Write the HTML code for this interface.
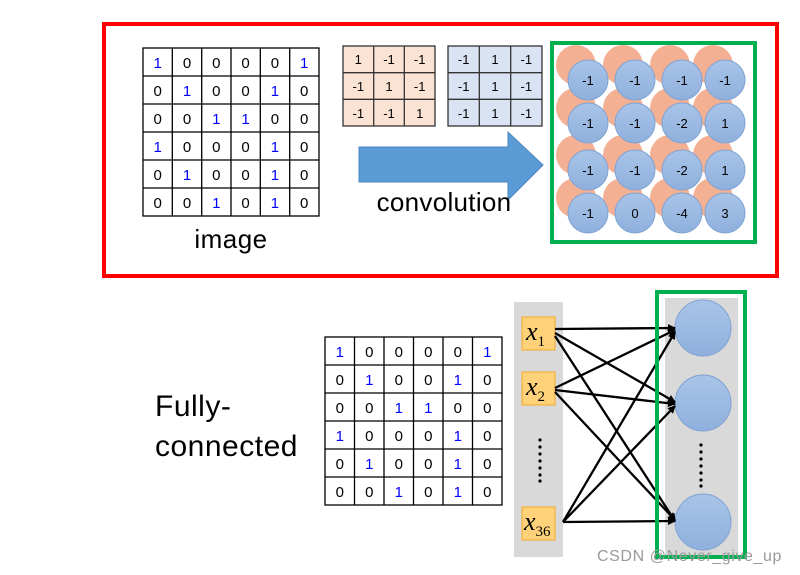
<!DOCTYPE html>
<html><head><meta charset="utf-8"><style>
html,body{margin:0;padding:0;background:#fff;}
svg{display:block;font-family:"Liberation Sans",sans-serif;}
</style></head><body>
<svg width="800" height="575" viewBox="0 0 800 575" xmlns="http://www.w3.org/2000/svg">
<defs>
<marker id="ah" markerWidth="8" markerHeight="8" refX="7" refY="4" orient="auto" markerUnits="userSpaceOnUse"><path d="M0,0 L8,4 L0,8 z" fill="#000"/></marker>
<linearGradient id="bg" x1="0" y1="0" x2="0" y2="1"><stop offset="0" stop-color="#a9c4e8"/><stop offset="1" stop-color="#8fb0dd"/></linearGradient>
</defs>
<rect x="104" y="24" width="673" height="252" fill="none" stroke="#ff0000" stroke-width="4"/>

<g stroke="#000" stroke-width="1.3" fill="none">
<rect x="143" y="48" width="176" height="168"/>
<path d="M172.3,48V216M201.7,48V216M231,48V216M260.3,48V216M289.7,48V216M143,76H319M143,104H319M143,132H319M143,160H319M143,188H319"/>
</g>
<g font-size="15" text-anchor="middle" fill="#000">
<text x="157.7" y="68" fill="#00f">1</text><text x="187" y="68">0</text><text x="216.3" y="68">0</text><text x="245.6" y="68">0</text><text x="274.9" y="68">0</text><text x="304.2" y="68" fill="#00f">1</text>
<text x="157.7" y="96">0</text><text x="187" y="96" fill="#00f">1</text><text x="216.3" y="96">0</text><text x="245.6" y="96">0</text><text x="274.9" y="96" fill="#00f">1</text><text x="304.2" y="96">0</text>
<text x="157.7" y="124">0</text><text x="187" y="124">0</text><text x="216.3" y="124" fill="#00f">1</text><text x="245.6" y="124" fill="#00f">1</text><text x="274.9" y="124">0</text><text x="304.2" y="124">0</text>
<text x="157.7" y="152" fill="#00f">1</text><text x="187" y="152">0</text><text x="216.3" y="152">0</text><text x="245.6" y="152">0</text><text x="274.9" y="152" fill="#00f">1</text><text x="304.2" y="152">0</text>
<text x="157.7" y="180">0</text><text x="187" y="180" fill="#00f">1</text><text x="216.3" y="180">0</text><text x="245.6" y="180">0</text><text x="274.9" y="180" fill="#00f">1</text><text x="304.2" y="180">0</text>
<text x="157.7" y="208">0</text><text x="187" y="208">0</text><text x="216.3" y="208" fill="#00f">1</text><text x="245.6" y="208">0</text><text x="274.9" y="208" fill="#00f">1</text><text x="304.2" y="208">0</text>
</g>
<text x="231" y="248" font-size="26" text-anchor="middle" letter-spacing="0.5">image</text>

<rect x="343" y="46" width="92" height="80" fill="#fbe3d4" stroke="#333" stroke-width="1.3"/>
<path d="M373.7,46V126M404.3,46V126M343,72.7H435M343,99.3H435" stroke="#333" stroke-width="1.3"/>
<rect x="448" y="46" width="94" height="80" fill="#dae3f3" stroke="#333" stroke-width="1.3"/>
<path d="M479.3,46V126M510.7,46V126M448,72.7H542M448,99.3H542" stroke="#333" stroke-width="1.3"/>
<g font-size="13" text-anchor="middle">
<text x="358.3" y="64">1</text><text x="389" y="64">-1</text><text x="419.7" y="64">-1</text>
<text x="358.3" y="91">-1</text><text x="389" y="91">1</text><text x="419.7" y="91">-1</text>
<text x="358.3" y="118">-1</text><text x="389" y="118">-1</text><text x="419.7" y="118">1</text>
<text x="463.7" y="64">-1</text><text x="495" y="64">1</text><text x="526.3" y="64">-1</text>
<text x="463.7" y="91">-1</text><text x="495" y="91">1</text><text x="526.3" y="91">-1</text>
<text x="463.7" y="118">-1</text><text x="495" y="118">1</text><text x="526.3" y="118">-1</text>
</g>
<path d="M359,147H508V132L543,165L508,200V182H359Z" fill="#5b9bd5" stroke="#4a86c0" stroke-width="1"/>
<text x="444" y="211" font-size="26" text-anchor="middle" letter-spacing="0.3">convolution</text>

<g fill="#f4b093">
<circle cx="576" cy="65" r="20"/><circle cx="623" cy="65" r="20"/><circle cx="670" cy="65" r="20"/><circle cx="713" cy="65" r="20"/>
<circle cx="576" cy="108" r="20"/><circle cx="623" cy="108" r="20"/><circle cx="670" cy="108" r="20"/><circle cx="713" cy="108" r="20"/>
<circle cx="576" cy="155" r="20"/><circle cx="623" cy="155" r="20"/><circle cx="670" cy="155" r="20"/><circle cx="713" cy="155" r="20"/>
<circle cx="576" cy="198" r="20"/><circle cx="623" cy="198" r="20"/><circle cx="670" cy="198" r="20"/><circle cx="713" cy="198" r="20"/>
</g>
<g fill="url(#bg)" stroke="#7fa3d3" stroke-width="1">
<circle cx="588" cy="80" r="20"/><circle cx="635" cy="80" r="20"/><circle cx="682" cy="80" r="20"/><circle cx="725" cy="80" r="20"/>
<circle cx="588" cy="123" r="20"/><circle cx="635" cy="123" r="20"/><circle cx="682" cy="123" r="20"/><circle cx="725" cy="123" r="20"/>
<circle cx="588" cy="170" r="20"/><circle cx="635" cy="170" r="20"/><circle cx="682" cy="170" r="20"/><circle cx="725" cy="170" r="20"/>
<circle cx="588" cy="213" r="20"/><circle cx="635" cy="213" r="20"/><circle cx="682" cy="213" r="20"/><circle cx="725" cy="213" r="20"/>
</g>
<g font-size="13" text-anchor="middle">
<text x="588" y="85">-1</text><text x="635" y="85">-1</text><text x="682" y="85">-1</text><text x="725" y="85">-1</text>
<text x="588" y="128">-1</text><text x="635" y="128">-1</text><text x="682" y="128">-2</text><text x="725" y="128">1</text>
<text x="588" y="175">-1</text><text x="635" y="175">-1</text><text x="682" y="175">-2</text><text x="725" y="175">1</text>
<text x="588" y="218">-1</text><text x="635" y="218">0</text><text x="682" y="218">-4</text><text x="725" y="218">3</text>
</g>
<rect x="552" y="43" width="203" height="199" fill="none" stroke="#00b050" stroke-width="4"/>

<text x="155" y="416" font-size="30" letter-spacing="0.5">Fully-</text>
<text x="155" y="456" font-size="30" letter-spacing="0.5">connected</text>

<g stroke="#000" stroke-width="1.3" fill="none">
<rect x="325" y="337" width="177" height="168"/>
<path d="M354.5,337V505M384,337V505M413.5,337V505M443,337V505M472.5,337V505M325,365H502M325,393H502M325,421H502M325,449H502M325,477H502"/>
</g>
<g font-size="15" text-anchor="middle" fill="#000">
<text x="339.8" y="357" fill="#00f">1</text><text x="369.3" y="357">0</text><text x="398.8" y="357">0</text><text x="428.3" y="357">0</text><text x="457.8" y="357">0</text><text x="487.3" y="357" fill="#00f">1</text>
<text x="339.8" y="385">0</text><text x="369.3" y="385" fill="#00f">1</text><text x="398.8" y="385">0</text><text x="428.3" y="385">0</text><text x="457.8" y="385" fill="#00f">1</text><text x="487.3" y="385">0</text>
<text x="339.8" y="413">0</text><text x="369.3" y="413">0</text><text x="398.8" y="413" fill="#00f">1</text><text x="428.3" y="413" fill="#00f">1</text><text x="457.8" y="413">0</text><text x="487.3" y="413">0</text>
<text x="339.8" y="441" fill="#00f">1</text><text x="369.3" y="441">0</text><text x="398.8" y="441">0</text><text x="428.3" y="441">0</text><text x="457.8" y="441" fill="#00f">1</text><text x="487.3" y="441">0</text>
<text x="339.8" y="469">0</text><text x="369.3" y="469" fill="#00f">1</text><text x="398.8" y="469">0</text><text x="428.3" y="469">0</text><text x="457.8" y="469" fill="#00f">1</text><text x="487.3" y="469">0</text>
<text x="339.8" y="497">0</text><text x="369.3" y="497">0</text><text x="398.8" y="497" fill="#00f">1</text><text x="428.3" y="497">0</text><text x="457.8" y="497" fill="#00f">1</text><text x="487.3" y="497">0</text>
</g>

<rect x="514" y="302" width="49" height="255" fill="#d9d9d9"/>
<rect x="665" y="298" width="73" height="259" fill="#d9d9d9"/>

<g fill="#ffd27a" stroke="#f4b13e" stroke-width="1.2">
<rect x="522" y="317" width="33" height="33"/>
<rect x="522" y="372" width="33" height="33"/>
<rect x="522" y="507" width="33" height="33"/>
</g>
<g font-family="Liberation Serif,serif" font-style="italic" font-size="26">
<text x="526" y="340">x<tspan font-size="15" font-style="normal" dy="6">1</tspan></text>
<text x="526" y="395">x<tspan font-size="15" font-style="normal" dy="6">2</tspan></text>
<text x="524" y="530">x<tspan font-size="15" font-style="normal" dy="6">36</tspan></text>
</g>
<g fill="#000">
<circle cx="540" cy="440" r="1.6"/><circle cx="540" cy="447" r="1.6"/><circle cx="540" cy="454" r="1.6"/><circle cx="540" cy="461" r="1.6"/><circle cx="540" cy="468" r="1.6"/><circle cx="540" cy="475" r="1.6"/><circle cx="540" cy="481" r="1.6"/>
<circle cx="701" cy="445" r="1.6"/><circle cx="701" cy="452" r="1.6"/><circle cx="701" cy="459" r="1.6"/><circle cx="701" cy="466" r="1.6"/><circle cx="701" cy="473" r="1.6"/><circle cx="701" cy="480" r="1.6"/><circle cx="701" cy="486" r="1.6"/>
</g>

<g fill="url(#bg)" stroke="#7fa3d3" stroke-width="1">
<circle cx="703" cy="328" r="28"/><circle cx="703" cy="403" r="28"/><circle cx="703" cy="522" r="28"/>
</g>

<g stroke="#000" stroke-width="2.3" marker-end="url(#ah)">
<line x1="555" y1="329" x2="675" y2="328"/>
<line x1="555" y1="333" x2="675" y2="402"/>
<line x1="555" y1="336" x2="675" y2="521"/>
<line x1="555" y1="388" x2="675" y2="330"/>
<line x1="555" y1="390" x2="675" y2="404"/>
<line x1="555" y1="392" x2="675" y2="520"/>
<line x1="563" y1="522" x2="675" y2="332"/>
<line x1="563" y1="522" x2="675" y2="406"/>
<line x1="563" y1="522" x2="675" y2="521"/>
</g>

<rect x="657" y="292" width="88" height="265" fill="none" stroke="#00b050" stroke-width="4"/>

<text x="597" y="561" font-size="16" fill="#9a9a9a" letter-spacing="0.6">CSDN @Never_give_up</text>
</svg>
</body></html>
